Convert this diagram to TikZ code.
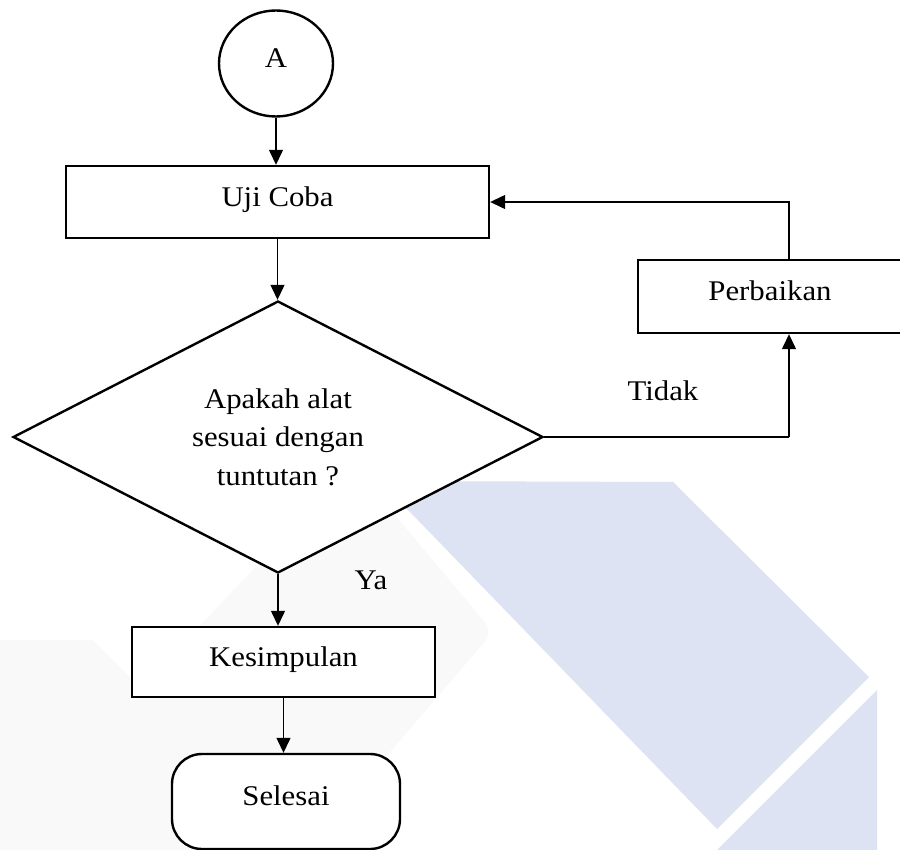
\documentclass[tikz,border=0pt]{standalone}
\usepackage{fontspec}
\setmainfont{Liberation Serif}[FakeStretch=1.08]
\usetikzlibrary{shapes.geometric,arrows.meta}
\definecolor{markblue}{RGB}{221,227,242}
\definecolor{markgray}{RGB}{249,249,249}
\begin{document}
\begin{tikzpicture}[x=1pt,y=-1pt,
  every node/.style={font=\fontsize{28.5}{38.5}\selectfont},
  shapeline/.style={draw, line width=2.4pt, fill=white, inner sep=0pt},
  procbox/.style={shapeline, rectangle, text height=19.5pt, text depth=11pt},
  decision/.style={shapeline, diamond, align=center},
  connector/.style={shapeline, ellipse, text height=19.5pt, text depth=11pt},
  terminal/.style={shapeline, rectangle, rounded corners=30pt, text height=19.5pt, text depth=11pt},
  flow/.style={line width=1.3pt, -{Triangle[length=15pt,width=14pt]}},
  plainline/.style={line width=1.3pt},
  branch/.style={anchor=base}]
\useasboundingbox (0,0) rectangle (900,850);
\fill[white] (0,0) rectangle (900,850);

% faint logo watermark behind the chart
\fill[markgray] (0,640) -- (93,640) -- (303,850) -- (0,850) -- cycle;
\fill[markgray, rounded corners=12pt] (353,465) -- (493,632) -- (330,822) -- (110,720) -- cycle;
\fill[markblue] (380,481) -- (673,482) -- (869,677) -- (717,829) -- cycle;
\fill[markblue] (877,690) -- (877,850) -- (717,850) -- cycle;

% chart nodes
\node[connector, minimum width=114pt, minimum height=106pt] (start) at (276,63.5) {A};
\node[procbox, minimum width=423pt, minimum height=72pt] (test) at (277.5,202) {Uji Coba};
\node[decision, minimum width=530pt, minimum height=272pt] (check) at (278,437)
  {Apakah alat\\sesuai dengan\\tuntutan ?};
\node[procbox, minimum width=264pt, minimum height=73pt] (fix) at (770,296.5) {Perbaikan};
\node[procbox, minimum width=303pt, minimum height=70pt] (concl) at (283.5,662) {Kesimpulan};
\node[terminal, minimum width=228pt, minimum height=95pt] (finish) at (286,801.5) {Selesai};
\coordinate (turn) at (789,437);

% branch labels
\node[branch] (no) at (663,400) {Tidak};
\node[branch] (yes) at (371,589) {Ya};

% connectors
\draw[flow] (start.south) -- (start.south |- test.north);
\draw[flow] (test.south) -- (test.south |- check.north);
\draw[flow] (check.south) -- (check.south |- concl.north);
\draw[flow] (concl.south) -- (concl.south |- finish.north);
\draw[plainline] (check.east) -- (turn);
\draw[flow] (turn) -- (turn |- fix.south);
\draw[flow] (turn |- fix.north) -- (turn |- test.east) -- (test.east);
\end{tikzpicture}
\end{document}
